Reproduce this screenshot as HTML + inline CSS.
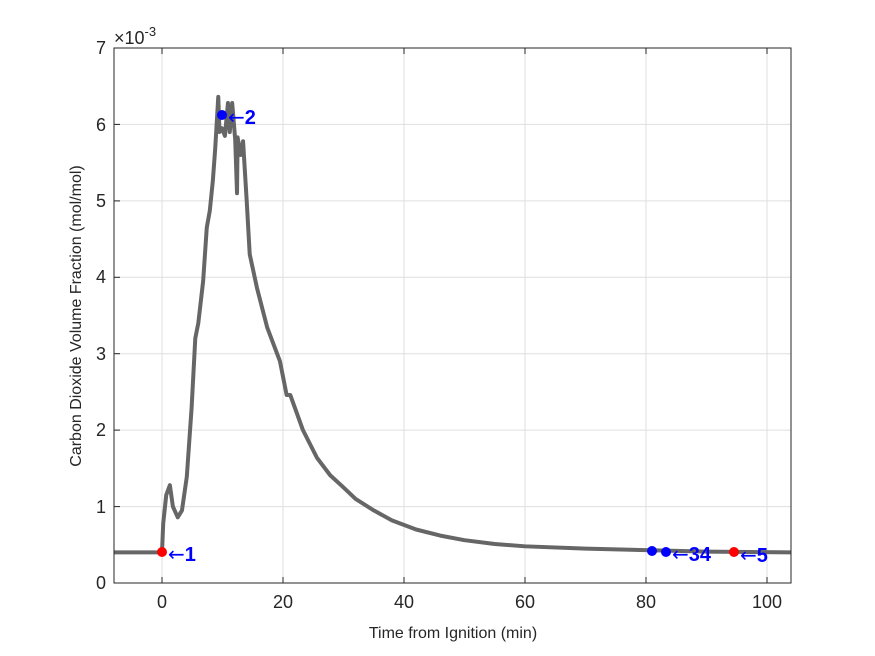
<!DOCTYPE html>
<html><head><style>
body{margin:0;background:#fff;}
svg{display:block;font-family:"Liberation Sans",sans-serif;}
</style></head><body>
<svg width="875" height="656" viewBox="0 0 875 656">
<rect width="875" height="656" fill="#fff"/>
<g stroke="#dfdfdf" stroke-width="1">
<line x1="162" y1="48" x2="162" y2="583"/><line x1="283" y1="48" x2="283" y2="583"/><line x1="404" y1="48" x2="404" y2="583"/><line x1="525" y1="48" x2="525" y2="583"/><line x1="646" y1="48" x2="646" y2="583"/><line x1="767" y1="48" x2="767" y2="583"/>
<line x1="114" y1="506.6" x2="791" y2="506.6"/><line x1="114" y1="430.1" x2="791" y2="430.1"/><line x1="114" y1="353.7" x2="791" y2="353.7"/><line x1="114" y1="277.3" x2="791" y2="277.3"/><line x1="114" y1="200.9" x2="791" y2="200.9"/><line x1="114" y1="124.4" x2="791" y2="124.4"/>
</g>
<g transform="translate(162,583) scale(6.05,-76.43)">
<polyline fill="none" stroke="#666" stroke-width="4" stroke-linejoin="round" vector-effect="non-scaling-stroke" points="-8,0.40 0,0.40 0.2,0.78 0.7,1.15 1.3,1.28 1.8,1.0 2.6,0.86 3.3,0.95 4.1,1.39 4.9,2.3 5.5,3.2 6.0,3.4 6.8,3.95 7.4,4.65 7.9,4.87 8.4,5.26 8.8,5.69 9.3,6.36 9.5,5.9 9.9,5.95 10.4,5.85 10.9,6.28 11.2,5.9 11.6,6.28 12.1,5.8 12.4,5.1 12.5,5.83 13.0,5.6 13.4,5.78 14.0,5.0 14.5,4.3 15.7,3.86 17.4,3.34 19.5,2.9 20.6,2.46 21.2,2.46 23.3,2.0 25.6,1.64 27.8,1.41 30,1.25 32,1.1 35,0.95 38,0.82 42,0.70 46,0.62 50,0.56 55,0.51 60,0.48 70,0.45 80,0.43 90,0.41 104,0.40"/>
</g>
<rect x="114" y="48" width="677" height="535" fill="none" stroke="#262626" stroke-width="1"/>
<g stroke="#262626" stroke-width="1">
<line x1="162" y1="583" x2="162" y2="577"/><line x1="283" y1="583" x2="283" y2="577"/><line x1="404" y1="583" x2="404" y2="577"/><line x1="525" y1="583" x2="525" y2="577"/><line x1="646" y1="583" x2="646" y2="577"/><line x1="767" y1="583" x2="767" y2="577"/>
<line x1="162" y1="48" x2="162" y2="54"/><line x1="283" y1="48" x2="283" y2="54"/><line x1="404" y1="48" x2="404" y2="54"/><line x1="525" y1="48" x2="525" y2="54"/><line x1="646" y1="48" x2="646" y2="54"/><line x1="767" y1="48" x2="767" y2="54"/>
<line x1="114" y1="506.6" x2="120" y2="506.6"/><line x1="114" y1="430.1" x2="120" y2="430.1"/><line x1="114" y1="353.7" x2="120" y2="353.7"/><line x1="114" y1="277.3" x2="120" y2="277.3"/><line x1="114" y1="200.9" x2="120" y2="200.9"/><line x1="114" y1="124.4" x2="120" y2="124.4"/>
</g>
<g fill="#262626" font-size="18" text-anchor="middle">
<text x="162" y="608">0</text><text x="283" y="608">20</text><text x="404" y="608">40</text><text x="525" y="608">60</text><text x="646" y="608">80</text><text x="767" y="608">100</text>
</g>
<g fill="#262626" font-size="18" text-anchor="end">
<text x="106" y="589">0</text><text x="106" y="513">1</text><text x="106" y="436">2</text><text x="106" y="360">3</text><text x="106" y="283">4</text><text x="106" y="207">5</text><text x="106" y="131">6</text><text x="106" y="54">7</text>
</g>
<text x="114" y="44" font-size="18" fill="#262626">×10<tspan font-size="13" dy="-8">-3</tspan></text>
<text x="453" y="638" font-size="16" fill="#262626" text-anchor="middle">Time from Ignition (min)</text>
<text transform="translate(81,316) rotate(-90)" font-size="16" fill="#262626" text-anchor="middle">Carbon Dioxide Volume Fraction (mol/mol)</text>
<circle cx="162" cy="552" r="5" fill="#f00"/>
<circle cx="222" cy="115" r="5" fill="#00f"/>
<circle cx="652" cy="551" r="5" fill="#00f"/>
<circle cx="666" cy="552" r="5" fill="#00f"/>
<circle cx="734" cy="552" r="5" fill="#f00"/>
<g fill="#00f" font-size="20" font-weight="bold">
<text x="168" y="561"><tspan font-weight="normal" font-family="DejaVu Sans">←</tspan>1</text>
<text x="228" y="124"><tspan font-weight="normal" font-family="DejaVu Sans">←</tspan>2</text>
<text x="672" y="561"><tspan font-weight="normal" font-family="DejaVu Sans">←</tspan>34</text>
<text x="740" y="562"><tspan font-weight="normal" font-family="DejaVu Sans">←</tspan>5</text>
</g>
</svg>
</body></html>
